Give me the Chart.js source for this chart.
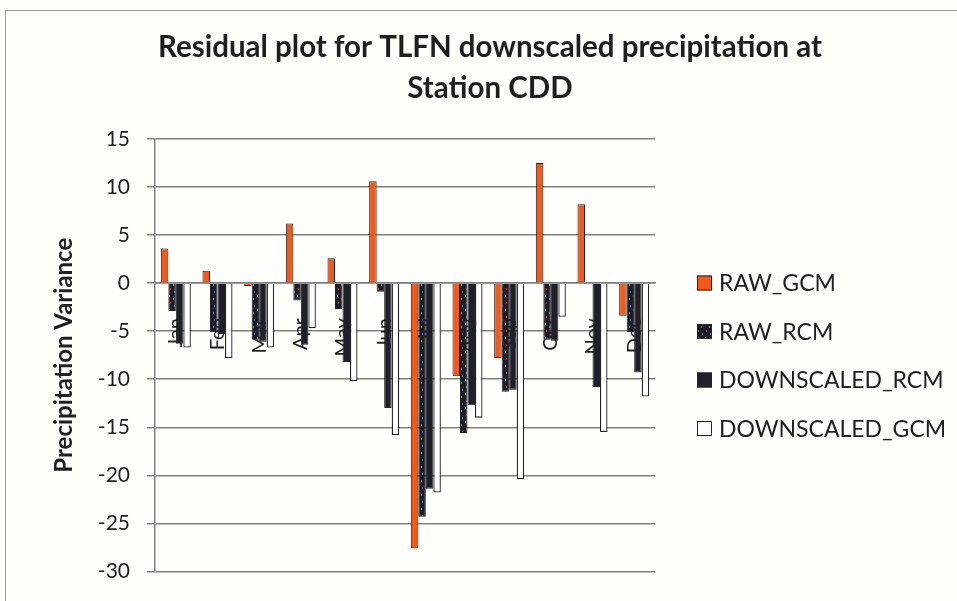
<!DOCTYPE html>
<html>
<head>
<meta charset="utf-8">
<script src="https://cdn.jsdelivr.net/npm/chart.js@4.4.1/dist/chart.umd.min.js"></script>
<style>
  body { margin: 0; background: #fefefb; }
  #wrap { width: 957px; height: 601px; }
</style>
</head>
<body>
<div id="wrap"><canvas id="residChart" width="957" height="601"></canvas></div>
<script>
// monthly residuals
var months = ['Jan', 'Feb', 'Mar', 'Apr', 'May', 'Jun', 'Jul', 'Aug', 'Sep', 'Oct', 'Nov', 'Dec'];
var rawGcm = [3.6, 1.3, -0.3, 6.2, 2.6, 10.6, -27.6, -9.7, -7.8, 12.5, 8.2, -3.4];
var rawRcm = [-2.9, -5.1, -5.9, -1.8, -2.7, -0.9, -24.3, -15.6, -11.3, -5.9, -0.1, -5.1];
var dsRcm = [-6.3, -5.3, -6.1, -6.4, -8.2, -13.0, -21.4, -12.7, -11.1, -6.0, -10.8, -9.3];
var dsGcm = [-6.7, -7.8, -6.7, -4.7, -10.2, -15.8, -21.8, -14.0, -20.4, -3.5, -15.5, -11.8];
var yTicks = { min: -30, max: 15, step: 5 };

var titleLines = ['Residual plot for TLFN downscaled precipitation at', 'Station CDD'];

// speckled dark fill for the RAW_RCM bars (picture fill in the original)
function speckle() {
    var c = document.createElement('canvas');
    c.width = 8; c.height = 14;
    var g = c.getContext('2d');
    g.fillStyle = '#1a1c28';
    g.fillRect(0, 0, 8, 14);
    var dots = [[1, 1, '#d9c443'], [5, 4, '#3f9fc4'], [2, 8, '#b8443a'], [6, 11, '#3a5fae']];
    dots.forEach(function (d) { g.fillStyle = d[2]; g.fillRect(d[0], d[1], 1, 2); });
    return g.createPattern(c, 'repeat');
}

var ctx = document.getElementById('residChart').getContext('2d');
var rcmPattern = speckle();

var decor = {
    id: 'decor',
    beforeDraw: function (chart) {
        var c = chart.ctx;
        c.save();
        c.fillStyle = '#fefefb';
        c.fillRect(0, 0, chart.width, chart.height);
        c.strokeStyle = '#9a9a9a';
        c.lineWidth = 1;
        c.strokeRect(5.5, 10.5, 1000, 1000);
        c.restore();
    },
    afterDraw: function (chart) {
        var c = chart.ctx;
        c.save();
        // title
        c.fillStyle = '#1e1e1e';
        c.font = 'bold 29.5px Lato';
        c.textAlign = 'center';
        c.textBaseline = 'middle';
        c.fillText(titleLines[0], 490, 47);
        c.fillText(titleLines[1], 490, 88);
        // legend
        c.font = '23px Lato';
        c.textAlign = 'left';
        chart.data.datasets.forEach(function (ds, i) {
            var y = 283 + i * 48.5;
            c.fillStyle = ds.backgroundColor;
            c.fillRect(697, y - 7.5, 15, 15);
            c.strokeStyle = '#222';
            c.lineWidth = 1;
            c.strokeRect(697.5, y - 7, 14, 14);
            c.fillStyle = '#1e1e1e';
            c.fillText(ds.label, 719, y + 1);
        });
        c.restore();
    }
};

var chart = new Chart(ctx, {
    type: 'bar',
    data: {
        labels: months,
        datasets: [
            { label: 'RAW_GCM', data: rawGcm, backgroundColor: '#f15a1b', borderColor: '#222', borderWidth: 1 },
            { label: 'RAW_RCM', data: rawRcm, backgroundColor: rcmPattern, borderColor: '#222', borderWidth: 1 },
            { label: 'DOWNSCALED_RCM', data: dsRcm, backgroundColor: '#1f2029', borderColor: '#222', borderWidth: 1 },
            { label: 'DOWNSCALED_GCM', data: dsGcm, backgroundColor: '#ffffff', borderColor: '#222', borderWidth: 1.3 }
        ]
    },
    options: {
        responsive: false,
        animation: false,
        layout: { autoPadding: false, padding: { left: 45, right: 302, top: 139, bottom: 26 } },
        datasets: { bar: { categoryPercentage: 0.72, barPercentage: 1.0 } },
        plugins: {
            legend: { display: false },
            title: { display: false },
            tooltip: { enabled: false }
        },
        scales: {
            x: {
                position: { y: 0 },
                grid: { display: false },
                border: { display: true, color: '#7d7d7d', width: 1.5 },
                ticks: {
                    minRotation: 90, maxRotation: 90, padding: 27,
                    color: '#1e1e1e', font: { family: 'Lato', size: 20 }
                }
            },
            y: {
                min: yTicks.min, max: yTicks.max,
                ticks: {
                    stepSize: yTicks.step, padding: 17,
                    color: '#1e1e1e', font: { family: 'Lato', size: 21 }
                },
                grid: { color: '#808080', lineWidth: 1.5, tickLength: 8 },
                border: { color: '#808080', width: 1.5 },
                title: {
                    display: true, text: 'Precipitation Variance', color: '#1e1e1e',
                    font: { family: 'Lato', size: 24, weight: 'bold' },
                    padding: { top: 5, bottom: 0 }
                },
                afterFit: function (scale) { scale.width = 110; }
            }
        }
    },
    plugins: [decor]
});
</script>
</body>
</html>
